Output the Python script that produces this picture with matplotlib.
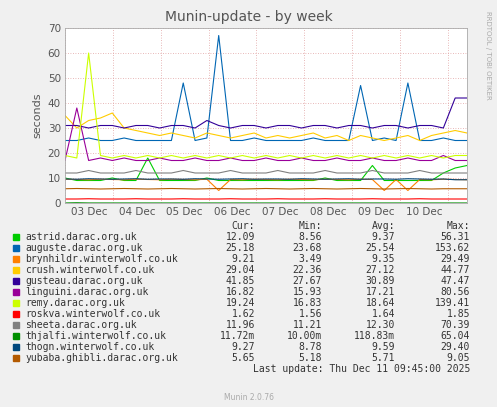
import numpy as np
import matplotlib
matplotlib.use("Agg")
import matplotlib.pyplot as plt

names = ["astrid.darac.org.uk","auguste.darac.org.uk","brynhildr.winterwolf.co.uk","crush.winterwolf.co.uk",
         "gusteau.darac.org.uk","linguini.darac.org.uk","remy.darac.org.uk","roskva.winterwolf.co.uk",
         "sheeta.darac.org.uk","thjalfi.winterwolf.co.uk","thogn.winterwolf.co.uk","yubaba.ghibli.darac.org.uk"]
colors = ["#00CC00","#0066B3","#FF8000","#FFCC00","#330099","#990099","#CCFF00","#FF0000",
          "#808080","#008F00","#00487D","#B35A00"]
cur = ["12.09","25.18","9.21","29.04","41.85","16.82","19.24","1.62","11.96","11.72m","9.27","5.65"]
mn  = ["8.56","23.68","3.49","22.36","27.67","15.93","16.83","1.56","11.21","10.00m","8.78","5.18"]
avg = ["9.37","25.54","9.35","27.12","30.89","17.21","18.64","1.64","12.30","118.83m","9.59","5.71"]
mx  = ["56.31","153.62","29.49","44.77","47.47","80.56","139.41","1.85","70.39","65.04","29.40","9.05"]

astrid   = [10,9,9,9,10,9,9,18,9,9,9,9,10,9,9,9,9,9,9,9,9,9,10,9,9,9,15,9,9,9,9,9,12,14,15]
auguste  = [25,25,26,25,25,26,25,25,25,25,48,25,26,67,25,25,26,25,25,25,25,26,25,25,25,47,25,26,25,48,25,25,26,25,25]
brynhildr= [9.5,9.4,9.3,9.5,9.4,9.3,9.5,9.4,9.3,9.5,9.4,9.3,9.5,5,9.4,9.3,9.5,9.4,9.3,9.5,9.4,9.3,9.5,9.4,9.3,9.5,9.4,5,9.4,5,9.4,9.3,9.5,9.4,9.3]
crush    = [35,30,33,34,36,30,29,28,27,28,27,26,28,27,26,27,28,26,27,26,27,28,26,27,25,27,26,25,26,27,25,27,28,29,28]
gusteau  = [31,31,30,31,31,30,31,31,30,31,31,30,33,31,30,31,31,30,31,31,30,31,31,30,31,31,30,31,31,30,31,31,30,42,42]
linguini = [17,38,17,18,17,18,17,17,18,17,17,18,17,17,18,17,17,18,17,17,18,17,17,18,17,17,18,17,17,18,17,17,19,17,17]
remy     = [19,18,60,19,18,19,18,19,18,19,18,19,18,19,18,19,18,19,18,19,18,19,18,19,18,19,18,19,18,19,18,19,18,19,19]
roskva   = [1.6,1.6,1.7,1.6,1.6,1.6,1.7,1.6,1.6,1.6,1.7,1.6,1.6,1.6,1.7,1.6,1.6,1.6,1.7,1.6,1.6,1.6,1.7,1.6,1.6,1.6,1.7,1.6,1.6,1.6,1.7,1.6,1.6,1.6,1.6]
sheeta   = [12,12,13,12,12,12,13,12,12,12,13,12,12,12,13,12,12,12,13,12,12,12,13,12,12,12,13,12,12,12,13,12,12,12,12]
thjalfi  = [0.01,0.1,0.01,0.01,0.01,0.01,0.01,0.01,0.01,0.01,0.01,0.01,0.01,0.01,0.01,0.01,0.01,0.01,0.01,0.01,0.01,0.01,0.01,0.01,0.01,0.01,0.01,0.01,0.01,0.01,0.01,0.01,0.01,0.01,0.01]
thogn    = [9.6,9.5,9.7,9.6,9.5,9.6,9.7,9.5,9.6,9.6,9.5,9.7,9.6,9.5,9.6,9.7,9.5,9.6,9.6,9.5,9.7,9.6,9.5,9.6,9.7,9.5,9.6,9.6,9.5,9.7,9.6,9.5,9.6,9.3,9.3]
yubaba   = [5.7,5.8,5.7,5.6,5.7,5.8,5.7,5.6,5.7,5.8,5.7,5.6,5.7,5.8,5.7,5.6,5.7,5.8,5.7,5.6,5.7,5.8,5.7,5.6,5.7,5.8,5.7,5.6,5.7,5.8,5.7,5.6,5.7,5.7,5.7]
series = [astrid,auguste,brynhildr,crush,gusteau,linguini,remy,roskva,sheeta,thjalfi,thogn,yubaba]
day_labels = ["03 Dec","04 Dec","05 Dec","06 Dec","07 Dec","08 Dec","09 Dec","10 Dec"]

W,H = 497,407
fig = plt.figure(figsize=(W/100,H/100), dpi=100, facecolor="#F0F0F0")
ax = fig.add_axes([65/W, 1-203/H, 402/W, 175/H])
ax.set_facecolor("white")
span = 8.4
for s,c in zip(series,colors):
    ax.plot(np.linspace(0,span,len(s)), s, color=c, lw=0.8)
ax.set_xlim(0,span); ax.set_ylim(0,70)
ax.set_yticks(range(0,71,10))
ax.set_xticks([i+0.5 for i in range(8)]); ax.set_xticklabels(day_labels)
ax.set_xticks(range(0,9), minor=True)
ax.tick_params(which="both", length=0, labelsize=7.5, colors="#555555", pad=3)
ax.grid(True, axis="y", color="#E0A0A0", ls=(0,(1,2)), lw=0.6)
ax.grid(True, axis="x", which="minor", color="#E0A0A0", ls=(0,(1,2)), lw=0.6)
for sp in ax.spines.values(): sp.set_color("#AAAAAA"); sp.set_linewidth(0.6)
ax.set_ylabel("seconds", fontsize=8, color="#555555")
fig.text(0.5, 1-17/H, "Munin-update - by week", ha="center", va="center", fontsize=10, color="#555555")
fig.text(488/W, 1-55/H, "RRDTOOL / TOBI OETIKER", rotation=270, ha="center", va="center", fontsize=5, color="#AAAAAA")

mono = dict(family="DejaVu Sans Mono", fontsize=7, color="#333333", va="center")
def ry(y): return 1-y/H
hy = 226
fig.text(255/W, ry(hy), "Cur:", ha="right", **mono)
fig.text(322/W, ry(hy), "Min:", ha="right", **mono)
fig.text(395/W, ry(hy), "Avg:", ha="right", **mono)
fig.text(470/W, ry(hy), "Max:", ha="right", **mono)
for i,n in enumerate(names):
    y = 237 + i*11.0
    fig.patches.append(plt.Rectangle((13/W, ry(y)-3/H), 6/W, 6/H, transform=fig.transFigure, color=colors[i]))
    fig.text(25/W, ry(y), n, ha="left", **mono)
    fig.text(255/W, ry(y), cur[i], ha="right", **mono)
    fig.text(322/W, ry(y), mn[i], ha="right", **mono)
    fig.text(395/W, ry(y), avg[i], ha="right", **mono)
    fig.text(470/W, ry(y), mx[i], ha="right", **mono)
fig.text(470/W, ry(237+12*11.0), "Last update: Thu Dec 11 09:45:00 2025", ha="right", **mono)
fig.text(0.5, ry(397), "Munin 2.0.76", ha="center", va="center", fontsize=5.5, color="#AAAAAA")
fig.savefig("out.png", dpi=100, facecolor=fig.get_facecolor())
